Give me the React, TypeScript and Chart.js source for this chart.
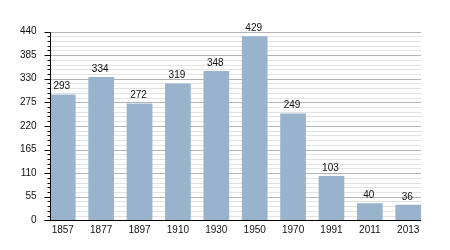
import React, { useEffect, useRef } from "react";
import { Chart, registerables } from "chart.js";

Chart.register(...registerables);

const years = ["1857", "1877", "1897", "1910", "1930", "1950", "1970", "1991", "2011", "2013"];
const population = [293, 334, 272, 319, 348, 429, 249, 103, 40, 36];
const yMax = 440;
const majorStep = 55;
const minorStep = 11;

const FONT = "'Liberation Sans', Arial, sans-serif";

const gridPlugin = {
  id: "customGrid",
  beforeDatasetsDraw(chart: any) {
    const ctx = chart.ctx;
    const y = chart.scales.y;
    const meta = chart.getDatasetMeta(0);
    const first: any = meta.data[0];
    const last: any = meta.data[meta.data.length - 1];
    const left = Math.round(first.x - first.width / 2);
    const right = Math.round(last.x + last.width / 2);
    ctx.save();
    ctx.lineWidth = 1;
    for (let v = 0; v <= yMax; v += minorStep) {
      const py = Math.round(y.getPixelForValue(v)) + 0.5;
      const major = v % majorStep === 0;
      ctx.strokeStyle = major ? "#b4b4b4" : "#e2e2e2";
      ctx.beginPath();
      ctx.moveTo(left, py);
      ctx.lineTo(right, py);
      ctx.stroke();
    }
    ctx.restore();
  },
  afterDatasetsDraw(chart: any) {
    const ctx = chart.ctx;
    const y = chart.scales.y;
    const meta = chart.getDatasetMeta(0);
    const first: any = meta.data[0];
    const last: any = meta.data[meta.data.length - 1];
    const left = Math.round(first.x - first.width / 2) + 0.5;
    const right = Math.round(last.x + last.width / 2);
    const top = Math.round(y.getPixelForValue(yMax));
    const bottom = Math.round(y.getPixelForValue(0)) + 0.5;
    ctx.save();
    ctx.strokeStyle = "#000";
    ctx.lineWidth = 1;
    for (let v = 0; v <= yMax; v += minorStep) {
      const py = Math.round(y.getPixelForValue(v)) + 0.5;
      const major = v % majorStep === 0;
      ctx.beginPath();
      ctx.moveTo(left - (major ? 6 : 3), py);
      ctx.lineTo(left, py);
      ctx.stroke();
    }
    ctx.beginPath();
    ctx.moveTo(left, top);
    ctx.lineTo(left, bottom);
    ctx.moveTo(left - 6, bottom);
    ctx.lineTo(right, bottom);
    ctx.stroke();

    ctx.fillStyle = "#111";
    ctx.font = "10px " + FONT;
    ctx.textAlign = "center";
    ctx.textBaseline = "bottom";
    meta.data.forEach((bar: any, i: number) => {
      ctx.fillText(String(population[i]), bar.x - 1, bar.y - 3);
    });
    ctx.restore();
  },
};

export default function App() {
  const ref = useRef<HTMLCanvasElement>(null);
  useEffect(() => {
    if (!ref.current) return;
    const chart = new Chart(ref.current, {
      type: "bar",
      data: {
        labels: years,
        datasets: [
          {
            data: population,
            backgroundColor: "#99b3cd",
            borderWidth: 0,
            barPercentage: 0.67,
            categoryPercentage: 1,
          },
        ],
      },
      options: {
        animation: false,
        responsive: false,
        maintainAspectRatio: false,
        layout: { padding: { left: 0, right: 22.6, top: 31.5, bottom: 0 } },
        plugins: { legend: { display: false }, tooltip: { enabled: false } },
        scales: {
          x: {
            grid: { display: false, drawTicks: false },
            border: { display: false },
            ticks: { color: "#111", font: { size: 10, family: FONT }, padding: 4, maxRotation: 0 },
            afterFit: (s: any) => {
              s.height = 29.7;
            },
          },
          y: {
            min: 0,
            max: yMax,
            grid: { display: false, drawTicks: false },
            border: { display: false },
            ticks: { stepSize: majorStep, color: "#111", font: { size: 10, family: FONT }, padding: 7 },
            afterFit: (s: any) => {
              s.width = 43.6;
            },
          },
        },
      },
      plugins: [gridPlugin],
    });
    return () => chart.destroy();
  }, []);
  return (
    <div style={{ position: "fixed", left: 0, top: 0, width: 450, height: 250, background: "#fff" }}>
      <canvas ref={ref} width={450} height={250} />
    </div>
  );
}
